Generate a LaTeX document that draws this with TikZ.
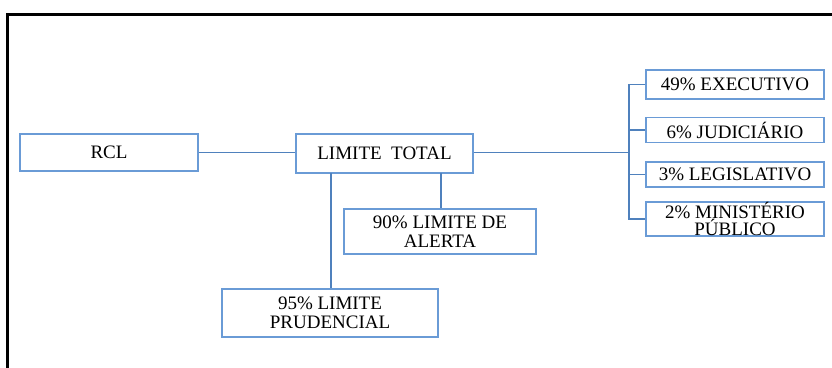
\documentclass[tikz,border=0pt]{standalone}
\usepackage{fontspec}
\setmainfont{Liberation Serif}
\definecolor{linkc}{HTML}{4F81BD}
\definecolor{boxc}{HTML}{6A9BD6}
\tikzset{
  bx/.style={draw=boxc, line width=1.3pt, rectangle, inner sep=0pt, align=center,
    font=\fontsize{19}{19}\selectfont},
  ln/.style={draw=linkc, line width=1.4pt},
}
\begin{document}
\begin{tikzpicture}[x=1pt,y=-1pt]
\useasboundingbox (0,0) rectangle (832,367);
\draw[line width=3pt, line cap=rect] (832,14.5) -- (7,14.5) -- (7,367);
\node[bx, minimum width=178pt, minimum height=37pt] (rcl) at (109,152.5) {RCL};
\node[bx, minimum width=177pt, minimum height=39pt] (tot) at (384.5,153.5) {LIMITE\ \ TOTAL};
\node[bx, minimum width=192pt, minimum height=45pt] (ale) at (440,231.5) {90\% LIMITE DE\\ALERTA};
\node[bx, minimum width=216pt, minimum height=48pt] (pru) at (330,313) {95\% LIMITE\\PRUDENCIAL};
\node[bx, minimum width=178pt, minimum height=29pt] (exe) at (735,84.5) {49\% EXECUTIVO};
\node[bx, minimum width=178pt, minimum height=25pt] (jud) at (735,130) {6\% JUDICIÁRIO};
\node[bx, minimum width=178pt, minimum height=25pt] (leg) at (735,174.5) {3\% LEGISLATIVO};
\node[bx, minimum width=178pt, minimum height=28pt, font=\fontsize{19}{14}\selectfont] (mp) at (735,219) {2\% MINISTÉRIO\\PÚBLICO};
\coordinate (bus) at (629,152.5);
\draw[ln] (rcl.east) -- (rcl.east -| tot.west);
\draw[ln] (tot.east |- bus) -- (bus);
\draw[ln] (exe.west) -- (629,84.5) |- (mp.west);
\draw[ln] (629,130) -- (jud.west);
\draw[ln] (629,174.5) -- (leg.west);
\draw[ln] (441,173) -- (ale.north -| 441,0);
\draw[ln] (331,173) -- (pru.north -| 331,0);
\end{tikzpicture}
\end{document}
